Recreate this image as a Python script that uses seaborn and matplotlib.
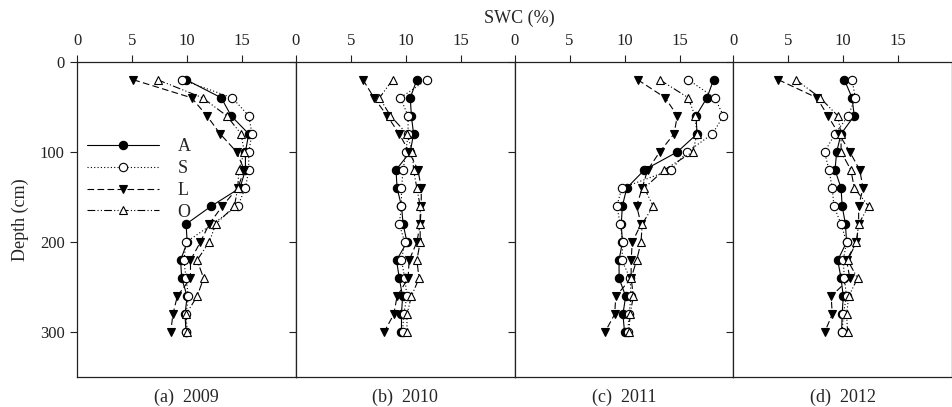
import matplotlib
matplotlib.use("Agg")
import matplotlib.pyplot as plt
import seaborn as sns

# Soil depths (cm) of each measurement
depth = [20, 40, 60, 80, 100, 120, 140, 160, 180, 200, 220, 240, 260, 280, 300]

years = ["(a)  2009", "(b)  2010", "(c)  2011", "(d)  2012"]
treatments = ["A", "S", "L", "O"]

# Soil water content (%) per treatment, one list per year
a_2009 = [9.9, 13.1, 14.0, 15.6, 15.3, 15.3, 14.8, 12.2, 9.9, 10.0, 9.4, 9.5, 10.0, 9.8, 9.9]
s_2009 = [9.5, 14.1, 15.6, 15.9, 15.6, 15.6, 15.3, 14.6, 12.3, 9.9, 9.7, 9.9, 10.1, 9.9, 9.85]
l_2009 = [5.1, 10.4, 11.8, 13.0, 14.5, 15.2, 14.6, 13.2, 12.0, 11.2, 10.3, 10.3, 9.1, 8.7, 8.5]
o_2009 = [7.3, 11.4, 13.6, 14.9, 15.2, 14.7, 14.6, 14.3, 12.6, 12.0, 10.9, 11.5, 10.9, 9.9, 10.0]

a_2010 = [11.0, 10.4, 10.5, 10.7, 10.4, 9.1, 9.2, 9.6, 9.75, 10.1, 9.15, 9.4, 9.7, 9.6, 9.6]
s_2010 = [11.9, 9.5, 10.2, 10.2, 10.0, 9.75, 9.6, 9.6, 9.4, 9.9, 9.6, 9.9, 10.1, 9.8, 9.7]
l_2010 = [6.1, 7.1, 8.3, 9.4, 10.3, 11.1, 11.4, 11.4, 11.3, 11.0, 10.3, 10.2, 9.2, 8.9, 8.0]
o_2010 = [8.8, 7.6, 8.6, 10.1, 10.6, 10.7, 11.0, 11.3, 11.3, 11.3, 11.0, 11.2, 10.5, 10.1, 10.1]

a_2011 = [18.1, 17.5, 16.5, 16.6, 14.8, 11.8, 10.2, 9.8, 9.7, 9.8, 9.5, 9.5, 10.1, 9.85, 10.0]
s_2011 = [15.8, 18.2, 19.0, 18.0, 15.7, 14.2, 9.75, 9.3, 9.6, 9.85, 9.75, 10.5, 10.6, 10.4, 10.3]
l_2011 = [11.2, 13.7, 14.8, 14.5, 13.2, 12.1, 11.6, 11.1, 11.5, 10.7, 10.6, 10.6, 9.2, 9.1, 8.2]
o_2011 = [13.2, 15.8, 16.4, 16.6, 16.2, 13.6, 11.8, 12.6, 11.6, 11.5, 11.1, 10.6, 10.8, 10.5, 10.4]

a_2012 = [10.1, 10.8, 11.0, 9.8, 9.4, 9.25, 9.8, 9.9, 10.2, 10.3, 9.5, 9.8, 10.0, 9.9, 9.85]
s_2012 = [10.8, 11.1, 10.45, 9.25, 8.3, 8.7, 9.0, 9.15, 9.8, 10.3, 10.0, 10.1, 10.3, 10.0, 9.9]
l_2012 = [4.1, 7.6, 8.6, 9.6, 10.6, 11.5, 11.8, 11.4, 11.4, 11.2, 10.3, 10.6, 8.9, 9.0, 8.3]
o_2012 = [5.7, 7.9, 9.5, 9.8, 9.8, 10.7, 11.0, 12.3, 11.4, 11.2, 10.4, 11.3, 10.5, 10.3, 10.4]

panels = [
    [a_2009, s_2009, l_2009, o_2009],
    [a_2010, s_2010, l_2010, o_2010],
    [a_2011, s_2011, l_2011, o_2011],
    [a_2012, s_2012, l_2012, o_2012],
]

x_ticks = [0, 5, 10, 15]
y_ticks = [0, 100, 200, 300]

# Line / marker style of each treatment
styles = {
    "A": dict(marker="o", linestyle="-", markerfacecolor="black"),
    "S": dict(marker="o", linestyle=(0, (1, 2)), markerfacecolor="white"),
    "L": dict(marker="v", linestyle=(0, (6, 3)), markerfacecolor="black"),
    "O": dict(marker="^", linestyle=(0, (7, 2, 1, 2, 1, 2)), markerfacecolor="white"),
}

sns.set_theme(style="ticks")
plt.rcParams["font.family"] = ["Liberation Serif", "DejaVu Serif"]
plt.rcParams["axes.edgecolor"] = "#222222"
plt.rcParams["axes.linewidth"] = 0.9

fig, axes = plt.subplots(1, 4, figsize=(9.53, 4.07), dpi=100, sharey=True)
fig.subplots_adjust(left=0.0811, right=0.999, top=0.8484, bottom=0.0725, wspace=0)

for i, (ax, series, year) in enumerate(zip(axes, panels, years)):
    for name, vals in zip(treatments, series):
        sns.lineplot(
            x=vals, y=depth, sort=False, estimator=None, orient="y",
            color="black", linewidth=0.8, markersize=6,
            markeredgecolor="black", markeredgewidth=0.8,
            label=name if i == 0 else None, legend=False, ax=ax,
            **styles[name],
        )
    ax.set_xlim(0, 19.9)
    ax.set_ylim(350, 0)
    ax.xaxis.tick_top()
    ax.set_xticks(x_ticks)
    ax.set_yticks(y_ticks)
    ax.tick_params(axis="x", which="both", top=True, bottom=False, direction="out",
                   length=5, width=0.8, pad=4, labelsize=12, colors="#222222")
    ax.tick_params(axis="y", direction="out", length=5, width=0.8, pad=4,
                   labelsize=12, colors="#222222", labelleft=(i == 0))
    for side in ["top", "bottom", "left", "right"]:
        ax.spines[side].set_visible(True)
        ax.spines[side].set_color("#222222")
    ax.set_xlabel(year, fontsize=13, labelpad=8)
    ax.xaxis.set_label_position("bottom")
    ax.set_ylabel("")

axes[0].set_ylabel("Depth (cm)", fontsize=13, labelpad=8)
fig.text(0.545, 0.955, "SWC (%)", ha="center", va="center", fontsize=13)

handles, labels = axes[0].get_legend_handles_labels()
axes[0].legend(handles, labels, loc="center left", bbox_to_anchor=(0.045, 0.627),
               frameon=False, handlelength=4.0, handletextpad=1.0, labelspacing=0.27,
               numpoints=1, borderaxespad=0, borderpad=0, fontsize=13)

fig.savefig("out.png", dpi=100)
